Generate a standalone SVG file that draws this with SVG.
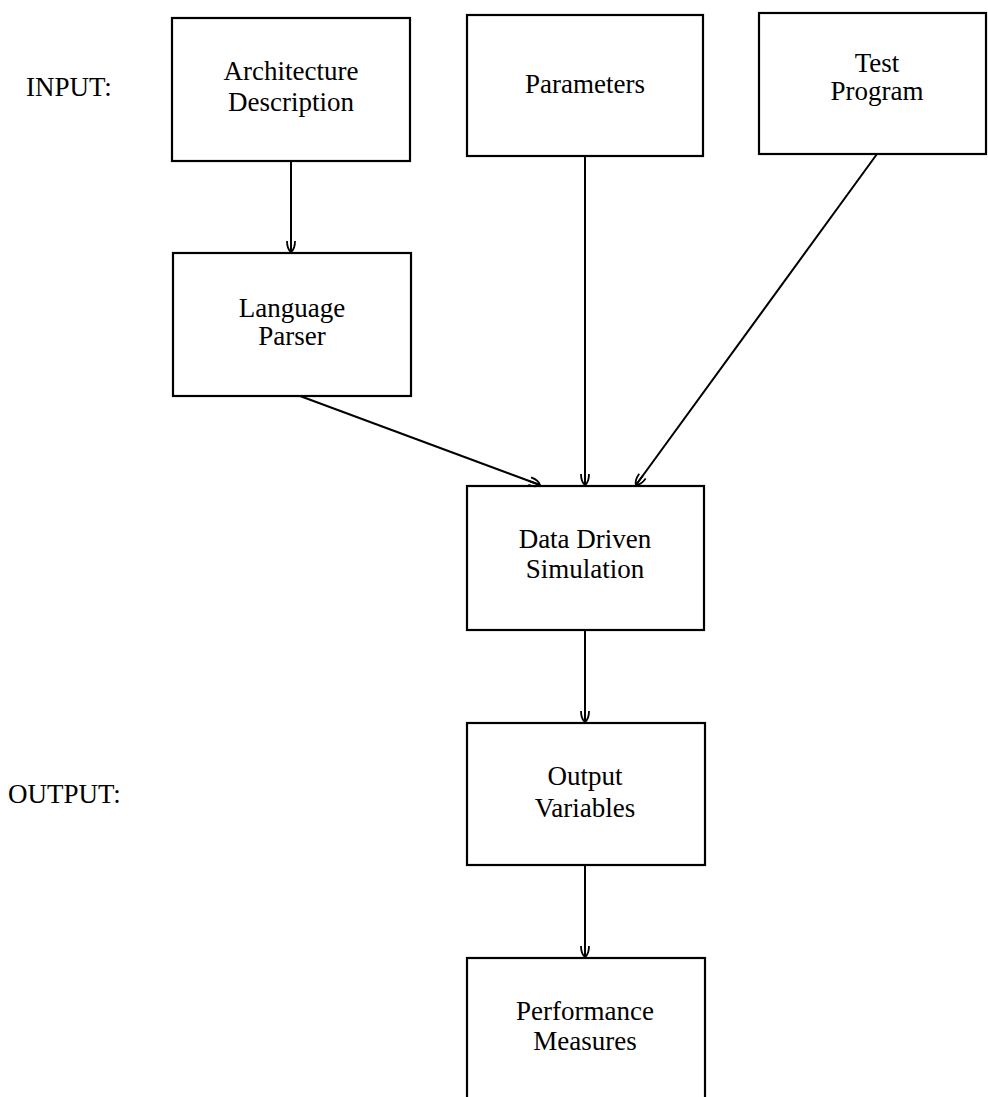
<svg xmlns="http://www.w3.org/2000/svg" width="988" height="1097" viewBox="0 0 988 1097">
<style>
.box{fill:#fff;stroke:#000;stroke-width:2.2}
.t{font-family:"Liberation Serif","Times New Roman",serif;font-size:27px;fill:#000;text-anchor:middle}
.lbl{font-family:"Liberation Serif","Times New Roman",serif;font-size:27px;fill:#000}
.c{fill:none;stroke:#000;stroke-width:2;marker-end:url(#ah)}
</style>
<defs>
<marker id="ah" markerWidth="16" markerHeight="14" refX="14" refY="7" orient="auto" markerUnits="userSpaceOnUse" viewBox="0 0 16 14">
<path d="M3,3 Q11,3 14,7 Q11,11 3,11 M2,7 L14,7" fill="none" stroke="#000" stroke-width="1.8"/>
</marker>
</defs>
<rect width="988" height="1097" fill="#fff"/>
<g id="labels">
<text class="lbl" x="26" y="96">INPUT:</text>
<text class="lbl" x="8" y="803">OUTPUT:</text>
</g>
<g id="architecture">
<rect class="box" x="172" y="18" width="238" height="143"/>
<text class="t" x="291" y="80">Architecture</text>
<text class="t" x="291" y="111">Description</text>
</g>
<g id="parameters">
<rect class="box" x="467" y="15" width="236" height="141"/>
<text class="t" x="585" y="93">Parameters</text>
</g>
<g id="test-program">
<rect class="box" x="759" y="13" width="227" height="141"/>
<text class="t" x="877" y="72">Test</text>
<text class="t" x="877" y="100">Program</text>
</g>
<g id="language-parser">
<rect class="box" x="173" y="253" width="238" height="143"/>
<text class="t" x="292" y="317">Language</text>
<text class="t" x="292" y="345">Parser</text>
</g>
<g id="data-driven-simulation">
<rect class="box" x="467" y="486" width="237" height="144"/>
<text class="t" x="585" y="548">Data Driven</text>
<text class="t" x="585" y="578">Simulation</text>
</g>
<g id="output-variables">
<rect class="box" x="467" y="723" width="238" height="142"/>
<text class="t" x="585" y="785">Output</text>
<text class="t" x="585" y="817">Variables</text>
</g>
<g id="performance-measures">
<rect class="box" x="467" y="958" width="238" height="150"/>
<text class="t" x="585" y="1020">Performance</text>
<text class="t" x="585" y="1050">Measures</text>
</g>
<g id="connectors">
<line class="c" x1="291" y1="161" x2="291" y2="252"/>
<line class="c" x1="585" y1="156" x2="585" y2="485"/>
<line class="c" x1="877" y1="154" x2="636" y2="485"/>
<line class="c" x1="300" y1="396" x2="540" y2="485"/>
<line class="c" x1="585" y1="630" x2="585" y2="722"/>
<line class="c" x1="585" y1="865" x2="585" y2="957"/>
</g>
</svg>
